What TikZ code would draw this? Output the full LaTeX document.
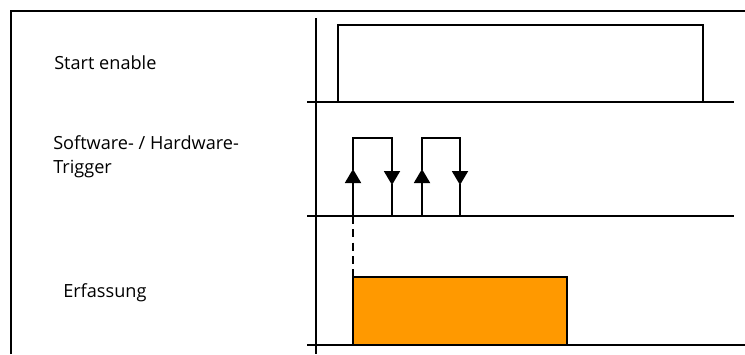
\documentclass[tikz,border=0pt]{standalone}
\usepackage{fontspec}
\setmainfont{Open Sans}
\usetikzlibrary{arrows.meta,positioning}
\definecolor{busyOrange}{RGB}{255,153,0}
\tikzset{
  label/.style={anchor=base west, inner sep=0pt, font=\fontsize{13.6}{18}\selectfont, align=left},
  frame/.style={line width=1.7pt},
  axis/.style={line width=1.2pt},
  signal/.style={line width=1.4pt},
  trig/.style={signal, -{Triangle[length=10.5pt,width=12pt]}},
  acq/.style={signal, fill=busyOrange}
}
\begin{document}
\begin{tikzpicture}[x=0.75pt,y=-0.75pt]
  \useasboundingbox (0,0) rectangle (745,354);

  % frame and time axis
  \draw[frame] (11,354) -- (11,11) -- (745,11);
  \draw[axis] (316,18) -- (316,354);

  % row labels
  \node[label] (lstart) at (54,69) {Start enable};
  \node[label] (ltrig) at (53,173) {Software- / Hardware-\\Trigger};
  \node[label] (lacq) at (63,297) {Erfassung};

  % base lines
  \coordinate (b1w) at (307,102); \coordinate (b1e) at (734,102);
  \coordinate (b2w) at (307,216); \coordinate (b2e) at (734,216);
  \coordinate (b3w) at (307,345); \coordinate (b3e) at (745,345);
  \draw[axis] (b1w) -- (b1e);
  \draw[axis] (b2w) -- (b2e);
  \draw[axis] (b3w) -- (b3e);

  % start enable
  \draw[signal] (338,102) -- (338,25) -- (703,25) -- (703,102);

  % trigger pulses
  \foreach \xa/\xb in {353/392, 422/460} {
    \draw[trig] (\xa,216) -- (\xa,169);
    \draw[signal] (\xa,170) -- (\xa,138) -- (\xb,138) -- (\xb,171);
    \draw[trig] (\xb,170) -- (\xb,185);
    \draw[signal] (\xb,184) -- (\xb,216);
  }

  % acquisition
  \draw[signal, dashed, dash pattern=on 6pt off 4pt] (353,216) -- (353,277);
  \draw[acq] (353,345) rectangle (567,277);
\end{tikzpicture}
\end{document}
